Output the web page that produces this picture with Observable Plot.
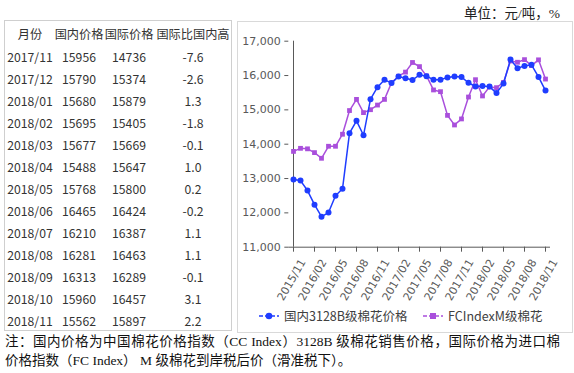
<!DOCTYPE html>
<html><head><meta charset="utf-8">
<script src="https://cdn.jsdelivr.net/npm/d3@7"></script>
<script src="https://cdn.jsdelivr.net/npm/@observablehq/plot@0.6"></script>
<style>
body{margin:0;background:#fff;}
#root{position:relative;width:574px;height:373px;overflow:hidden;font-family:"Noto Sans CJK SC",sans-serif;color:#333;}
.abs{position:absolute;white-space:nowrap;}
#unit{right:14px;top:2px;font-family:"Liberation Serif","Noto Sans CJK SC",serif;font-size:13.5px;color:#222;}
#tablebox{position:absolute;left:4px;top:20px;width:228px;height:311px;border:1px solid #cfcfcf;box-sizing:border-box;}
#chartbox{position:absolute;left:237px;top:21px;width:336px;height:312px;border:1px solid #d9d9d9;box-sizing:border-box;}
.cell{position:absolute;white-space:nowrap;font-size:12.2px;line-height:16px;transform:translate(-50%,-50%);color:#333;}
#chart{position:absolute;left:237px;top:21px;}
.note{position:absolute;left:5px;font-family:"Liberation Serif","Noto Sans CJK SC",serif;font-size:13.5px;color:#111;white-space:nowrap;line-height:18px;}
#note1{top:333px;width:555px;text-align:justify;text-align-last:justify;white-space:normal;}
#note2{top:352px;}
.leg{position:absolute;font-size:12.5px;color:#404040;white-space:nowrap;line-height:16px;}
</style></head><body>
<div id="root">
  <div id="unit" class="abs">单位：元/吨，%</div>
  <div id="tablebox"></div>
  <div id="chartbox"></div>
  <div id="chart"></div>
  <div id="note1" class="note">注：国内价格为中国棉花价格指数（CC Index）3128B 级棉花销售价格，国际价格为进口棉</div>
  <div id="note2" class="note">价格指数（FC Index） M 级棉花到岸税后价（滑准税下）。</div>
</div>
<script>
// ---------- data ----------
const months = ["2015/11","2015/12","2016/01","2016/02","2016/03","2016/04","2016/05","2016/06","2016/07","2016/08","2016/09","2016/10",
  "2016/11","2016/12","2017/01","2017/02","2017/03","2017/04","2017/05","2017/06","2017/07","2017/08","2017/09","2017/10",
  "2017/11","2017/12","2018/01","2018/02","2018/03","2018/04","2018/05","2018/06","2018/07","2018/08","2018/09","2018/10","2018/11"];
const domestic = [12970,12940,12650,12240,11890,12010,12500,12700,14320,14680,14260,15310,
  15660,15880,15780,15970,15920,15870,16020,15980,15880,15880,15940,15970,
  15956,15790,15680,15695,15677,15488,15768,16465,16210,16281,16313,15960,15562];
const international = [13790,13880,13865,13755,13590,13940,13940,14290,14980,15305,14920,15005,
  15140,15305,15790,15980,16100,16380,16260,15990,15580,15530,14840,14560,
  14736,15374,15879,15405,15669,15647,15800,16424,16387,16463,16289,16457,15897];
const seriesNames = ["国内3128B级棉花价格","FCIndexM级棉花"];
const xTickLabels = ["2015/11","2016/02","2016/05","2016/08","2016/11","2017/02","2017/05","2017/08","2017/11","2018/02","2018/05","2018/08","2018/11"];
const yTicks = [11000,12000,13000,14000,15000,16000,17000];

const tableHeaders = ["月份","国内价格","国际价格","国际比国内高"];
const tableMonths = ["2017/11","2017/12","2018/01","2018/02","2018/03","2018/04","2018/05","2018/06","2018/07","2018/08","2018/09","2018/10","2018/11"];
const tableDomestic = ["15956","15790","15680","15695","15677","15488","15768","16465","16210","16281","16313","15960","15562"];
const tableIntl = ["14736","15374","15879","15405","15669","15647","15800","16424","16387","16463","16289","16457","15897"];
const tableDiff = ["-7.6","-2.6","1.3","-1.8","-0.1","1.0","0.2","-0.2","1.1","1.1","-0.1","3.1","2.2"];

// ---------- table ----------
const root = document.getElementById("root");
const colX = [30, 79, 129, 193];
function cell(text, x, y){
  const d = document.createElement("div");
  d.className = "cell"; d.textContent = text;
  d.style.left = x + "px"; d.style.top = y + "px";
  root.appendChild(d);
}
tableHeaders.forEach((h,i)=>cell(h, colX[i], 34));
const cols = [tableMonths, tableDomestic, tableIntl, tableDiff];
tableMonths.forEach((m,r)=>{
  cols.forEach((c,i)=>cell(c[r], colX[i], 57 + 22*r));
});

// ---------- chart ----------
const blue = "#1f3dff", purple = "#a94fdc";
const data = months.map((m,i)=>({month:m, value:domestic[i], series:seriesNames[0]}))
  .concat(months.map((m,i)=>({month:m, value:international[i], series:seriesNames[1]})));
const dom = data.filter(d=>d.series===seriesNames[0]);
const intl = data.filter(d=>d.series===seriesNames[1]);

const chart = Plot.plot({
  width: 335, height: 290,
  marginLeft: 51.3, marginRight: 22, marginTop: 19.7, marginBottom: 64.3,
  style: {background:"transparent", fontFamily:"DejaVu Sans", fontSize:"11px", color:"#595959", overflow:"visible"},
  x: {type:"point", domain: months, padding: 0},
  y: {domain:[11000,17000]},
  marks: [
    Plot.ruleY([11000], {stroke:"#595959", strokeWidth:1}),
    Plot.ruleX([months[0]], {stroke:"#595959", strokeWidth:1, y1:11000, y2:17000}),
    Plot.axisY({ticks: yTicks, tickSize: 4, tickPadding: 4, tickFormat: d3.format(","), label:null, stroke:"#595959", fill:"#595959", fontSize: 11}),
    Plot.axisX({ticks: xTickLabels, tickSize: 5, tickFormat: () => "", label:null, stroke:"#595959"}),
    Plot.text(xTickLabels, {x: d => d, y: () => 11000, text: d => d, rotate: -60, textAnchor: "end", lineAnchor: "middle",
      dx: 9.5, dy: 13, fill: "#595959", fontSize: 11}),
    Plot.line(intl, {x:"month", y:"value", stroke: purple, strokeWidth: 1.5}),
    Plot.dot(intl, {x:"month", y:"value", fill: purple, symbol:"square", r: 2.7, stroke:"none"}),
    Plot.line(dom, {x:"month", y:"value", stroke: blue, strokeWidth: 1.5}),
    Plot.dot(dom, {x:"month", y:"value", fill: blue, r: 3, stroke:"none"})
  ]
});
document.getElementById("chart").appendChild(chart);

// ---------- legend ----------
function legendItem(name, color, square, x, textX){
  const svg = d3.create("svg").attr("width", 22).attr("height", 10)
    .style("position","absolute").style("left", x+"px").style("top", "311px");
  svg.append("line").attr("x1",1).attr("x2",21).attr("y1",5).attr("y2",5)
    .attr("stroke",color).attr("stroke-width",1.5).attr("stroke-dasharray","4,2");
  if (square) svg.append("rect").attr("x",8).attr("y",2).attr("width",6).attr("height",6).attr("fill",color);
  else svg.append("circle").attr("cx",11).attr("cy",5).attr("r",3.3).attr("fill",color);
  root.appendChild(svg.node());
  const t = document.createElement("div");
  t.className = "leg"; t.textContent = name;
  t.style.left = textX + "px"; t.style.top = "308px";
  root.appendChild(t);
}
legendItem(seriesNames[0], blue, false, 258, 284);
legendItem(seriesNames[1], purple, true, 422, 448);
</script>
</body></html>
